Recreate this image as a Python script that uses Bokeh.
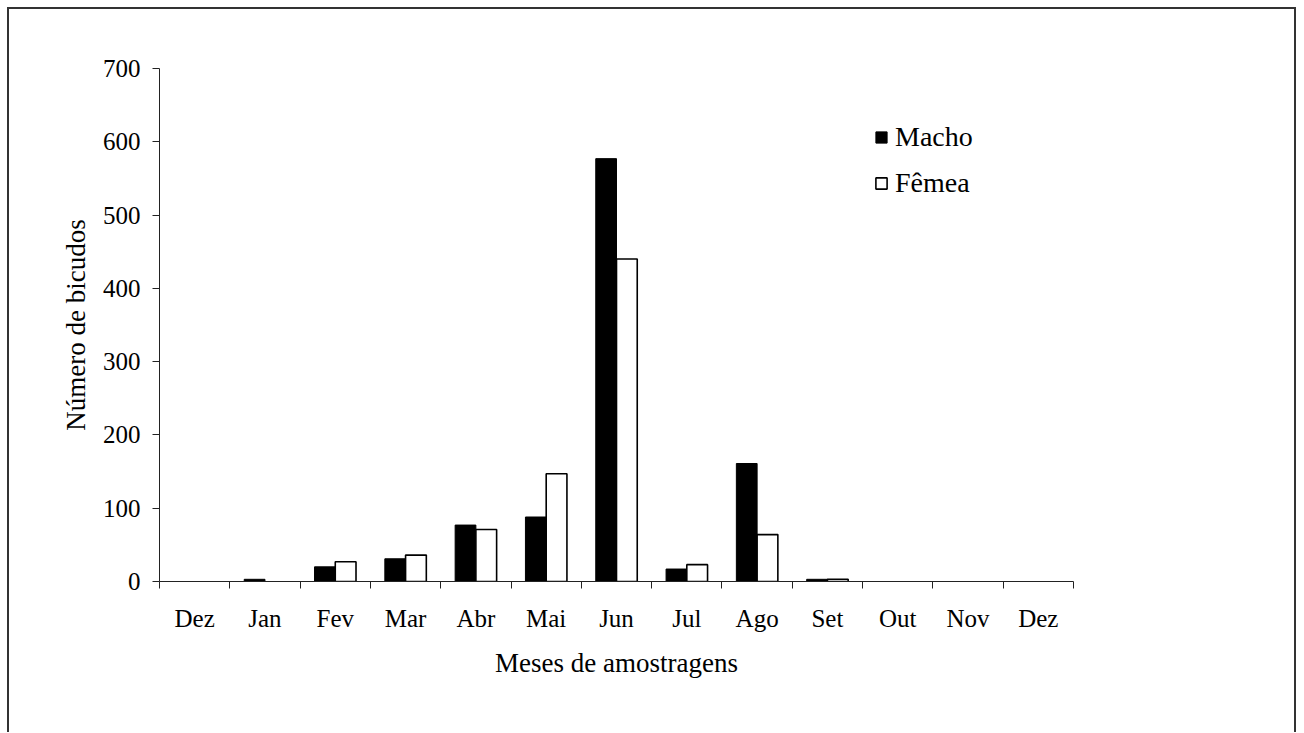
from bokeh.plotting import figure
from bokeh.models import Range1d, FixedTicker, Legend, LegendItem, ColumnDataSource, CDSView, BooleanFilter
from bokeh.embed import file_html
from bokeh.resources import INLINE

months = ["Dez", "Jan", "Fev", "Mar", "Abr", "Mai", "Jun", "Jul", "Ago", "Set", "Out", "Nov", "Dez"]
macho = [0, 3, 20, 31, 77, 88, 577, 17, 161, 3, 0, 0, 0]
femea = [0, 0, 27, 36, 71, 147, 440, 23, 64, 3, 0, 0, 0]
y_ticks = [0, 100, 200, 300, 400, 500, 600, 700]

FONT = "Liberation Serif"
BW = 0.295
idx = list(range(len(months)))
src = ColumnDataSource(dict(
    xm=[i + 0.5 - BW / 2 for i in idx],
    xf=[i + 0.5 + BW / 2 for i in idx],
    macho=macho, femea=femea,
))
view_m = CDSView(filter=BooleanFilter([v > 0 for v in macho]))
view_f = CDSView(filter=BooleanFilter([v > 0 for v in femea]))

p = figure(width=1289, height=725, output_backend="svg", toolbar_location=None,
           x_range=Range1d(0, len(months)), y_range=Range1d(0, 700),
           min_border_left=150, min_border_right=225, min_border_top=59, min_border_bottom=153)
p.styles = {"border-left": "2px solid #333", "border-top": "2px solid #333",
            "border-right": "2px solid #333", "margin-left": "7px", "margin-top": "7px"}
p.xgrid.visible = False
p.ygrid.visible = False
p.outline_line_color = None

rm = p.vbar(x="xm", top="macho", width=BW, bottom=0, source=src, view=view_m,
            fill_color="black", line_color="black", line_width=1)
rf = p.vbar(x="xf", top="femea", width=BW, bottom=0, source=src, view=view_f,
            fill_color="white", line_color="black", line_width=1.6)

xa = p.xaxis[0]
xa.ticker = FixedTicker(ticks=[i + 0.5 for i in idx], minor_ticks=list(range(len(months) + 1)))
xa.major_label_overrides = {i + 0.5: m for i, m in enumerate(months)}
xa.major_tick_out = 0
xa.major_tick_in = 0
xa.minor_tick_out = 7
xa.minor_tick_in = 0
xa.axis_label = "Meses de amostragens"

ya = p.yaxis[0]
ya.ticker = FixedTicker(ticks=y_ticks, minor_ticks=[])
ya.major_tick_out = 7
ya.major_tick_in = 0
ya.minor_tick_out = 0
ya.minor_tick_in = 0
ya.axis_label = "Número de bicudos"

for ax in (xa, ya):
    ax.axis_line_color = "#222"
    ax.major_tick_line_color = "#222"
    ax.minor_tick_line_color = "#222"
    ax.major_label_text_font = FONT
    ax.major_label_text_font_size = "25px"
    ax.major_label_text_color = "black"
    ax.axis_label_text_font = FONT
    ax.axis_label_text_font_size = "27px"
    ax.axis_label_text_font_style = "normal"
    ax.axis_label_text_color = "black"

xa.major_label_standoff = 16
xa.axis_label_standoff = 13
ya.major_label_standoff = 12
ya.axis_label_standoff = 9

legend = Legend(items=[LegendItem(label="Macho", renderers=[rm]),
                       LegendItem(label="Fêmea", renderers=[rf])],
                location=(715, 382), orientation="vertical")
legend.label_text_font = FONT
legend.label_text_font_size = "28px"
legend.label_text_color = "black"
legend.glyph_width = 14
legend.glyph_height = 14
legend.label_standoff = 7
legend.label_height = 30
legend.spacing = 14
legend.padding = 0
legend.margin = 0
legend.border_line_alpha = 0
legend.background_fill_alpha = 0
p.add_layout(legend, "center")

open("out.html", "w").write(file_html(p, INLINE))
